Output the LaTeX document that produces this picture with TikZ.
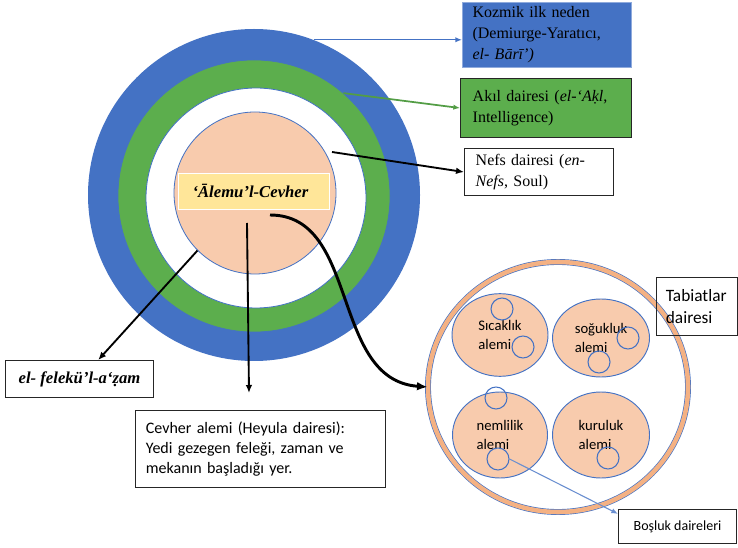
\documentclass[tikz,border=0pt]{standalone}
\usepackage{fontspec}
\setmainfont{Liberation Serif}
\setsansfont{Carlito}
\usetikzlibrary{arrows.meta,shapes.geometric}
\definecolor{ofismavi}{HTML}{4472C4}
\definecolor{ofisyesil}{HTML}{5CAE4D}
\definecolor{seftali}{HTML}{F8CBAD}
\definecolor{sari}{HTML}{FFE699}
\definecolor{turuncu}{HTML}{F4B183}

\begin{document}
\begin{tikzpicture}[x=0.75pt,y=-0.75pt,
  kutu/.style={draw=black!85,line width=0.8pt,anchor=north west,inner ysep=0pt},
  tirnak/.style={font=\fontsize{12}{15.75}\selectfont},
  kalibri/.style={font=\sffamily\fontsize{12}{15}\selectfont},
  daire/.style={circle,inner sep=0pt},
  alem/.style={ellipse,fill=seftali,draw=ofismavi,line width=0.7pt,inner sep=0pt,align=left,font=\sffamily\fontsize{11}{14}\selectfont},
  bosluk/.style={circle,draw=ofismavi,line width=0.8pt,minimum size=16.5pt,inner sep=0pt},
  ok/.style={-{Latex[length=6pt,width=5pt]},line width=1.4pt}]
\useasboundingbox (0,0) rectangle (738,548);

\node[daire,fill=ofismavi,minimum size=249pt] (kozmikdaire) at (254,195) {};
\node[daire,fill=ofisyesil,draw=ofismavi,line width=0.5pt,minimum size=204pt] (akildaire) at (254,196) {};
\node[daire,fill=white,draw=ofismavi,line width=0.6pt,minimum size=165pt] (nefsdaire) at (256,198) {};
\node[daire,fill=seftali,draw=ofismavi,line width=0.6pt,minimum size=121.5pt] (cevherdaire) at (255,193) {};
\node[anchor=north west,fill=sari,draw=white,line width=0.6pt,minimum width=113.25pt,minimum height=27pt,text width=92pt,inner xsep=10.5pt,align=left,font=\bfseries\itshape\fontsize{12.5}{15}\selectfont] (cevheretiket) at (178,173) {‘Ālemu’l-Cevher};

\node[kutu,tirnak,draw=ofismavi!60,fill=ofismavi,minimum width=126.75pt,minimum height=48.75pt,text width=111.75pt,inner xsep=7.5pt,align=left] (kozmik) at (462,2) {Kozmik ilk neden\\(Demiurge-Yaratıcı,\\\textit{el- Bārī’)}};
\node[kutu,tirnak,fill=ofisyesil,minimum width=128.25pt,minimum height=44.25pt,text width=110pt,inner xsep=9pt,align=left] (akil) at (460,78) {Akıl dairesi (\textit{el-‘Aḳl},\\Intelligence)};
\node[kutu,tirnak,minimum width=111.75pt,minimum height=35.25pt,text width=95pt,inner xsep=8pt,align=left] (nefs) at (464,148) {Nefs dairesi (\textit{en-}\\\textit{Nefs}, Soul)};
\node[kutu,minimum width=111pt,minimum height=27.75pt,font=\bfseries\itshape\fontsize{12.5}{15}\selectfont] (felek) at (5,360) {el- felekü’l-a‘ẓam};
\node[kutu,kalibri,minimum width=187.5pt,minimum height=57.75pt,text width=172pt,inner xsep=7.5pt,align=left] (heyula) at (135,410) {Cevher alemi (Heyula dairesi):\\Yedi gezegen feleği, zaman ve\\mekanın başladığı yer.};

\node[ellipse,draw=ofismavi,double=turuncu,double distance=3.4pt,line width=0.5pt,minimum width=195pt,minimum height=187.5pt] (tabiat) at (558,387) {};
\node[alem,minimum width=72pt,minimum height=62pt] (sicaklik) at (500,335) {Sıcaklık\\alemi};
\node[alem,minimum width=72.75pt,minimum height=58.5pt] (soguklik) at (601,338) {soğukluk\\alemi};
\node[alem,minimum width=71.25pt,minimum height=64.5pt] (nemlilik) at (500,435) {nemlilik\\alemi};
\node[alem,minimum width=72.75pt,minimum height=64.5pt] (kuruluk) at (601,435) {kuruluk\\alemi};
\foreach \n/\p in {b1/{(502,309)},b2/{(523,347)},b3/{(628,338)},b4/{(599,362)},b5/{(496,398)},b6/{(498,459)},b7/{(608,458)}}{
  \node[bosluk] (\n) at \p {};}
\node[kutu,font=\sffamily\fontsize{13}{16.5}\selectfont,minimum width=60.75pt,minimum height=43.5pt,text width=47pt,inner xsep=7pt,align=left] (tabiatetiket) at (656,277) {Tabiatlar\\dairesi};
\node[kutu,font=\sffamily\fontsize{10.5}{13}\selectfont,minimum width=88.5pt,minimum height=25.5pt] (boslukdaire) at (618,509) {Boşluk daireleri};

\coordinate (nefsbas) at (332,152);
\coordinate (heyulabas) at (247,223);
\coordinate (heyulauc) at (249,393);
\coordinate (egribas) at (270,215);
\draw[-{Latex[length=5pt,width=4pt]},ofismavi,line width=1pt] (kozmikdaire.69) -- (kozmikdaire.69 -| kozmik.west);
\draw[-{Latex[length=5pt,width=4pt]},ofisyesil!90!black,line width=1.3pt] (akildaire.49) -- (akil.west);
\draw[ok] (nefsbas) -- (nefs.west);
\draw[ok] (cevherdaire.225) -- ([xshift=14pt]felek.north);
\draw[ok] (heyulabas) -- (heyulauc);
\draw[-{Latex[length=8pt,width=6.5pt]},line width=2.2pt] (egribas) .. controls (360,215) and (330,380) .. (tabiat.west);
\draw[-{Latex[length=5pt,width=4pt]},ofismavi!80,line width=0.8pt] (b6.east) -- (boslukdaire.168);
\end{tikzpicture}
\end{document}
